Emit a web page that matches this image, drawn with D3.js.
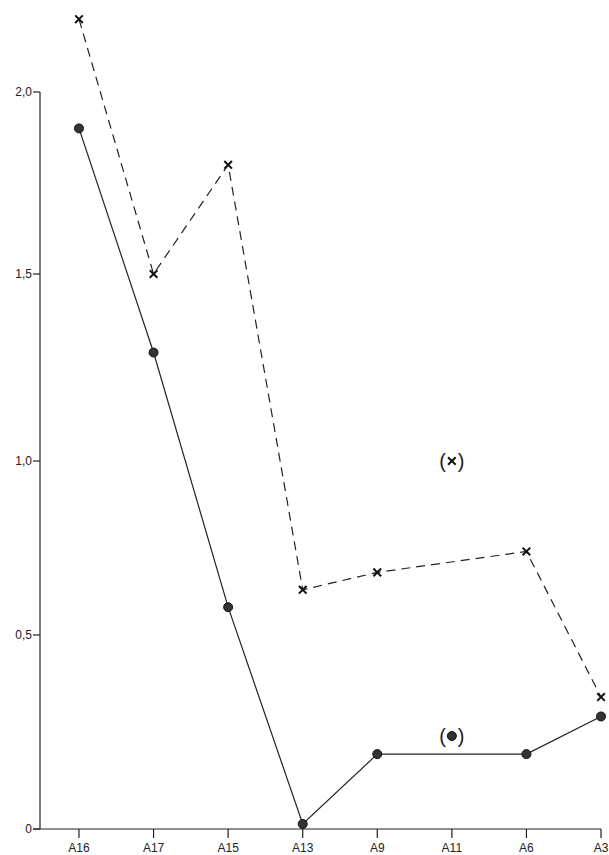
<!DOCTYPE html>
<html><head><meta charset="utf-8">
<script src="https://cdn.jsdelivr.net/npm/d3@7"></script>
<style>body{margin:0;background:#fff}svg{font-family:"Liberation Sans",Arial,sans-serif}</style>
</head><body><svg id="c" width="609" height="855"></svg>
<script>
var categories = ["A16","A17","A15","A13","A9","A11","A6","A3"];
var yTicks = [0, 0.5, 1.0, 1.5, 2.0];
// circles (solid line)
var circleSeries = [
	{k:"A16",v:1.90},{k:"A17",v:1.29},{k:"A15",v:0.58},{k:"A13",v:0.013},
	{k:"A9",v:0.193},{k:"A6",v:0.193},{k:"A3",v:0.29}];
// crosses (dashed line)
var crossSeries = [
	{k:"A16",v:2.20},{k:"A17",v:1.50},{k:"A15",v:1.80},{k:"A13",v:0.63},
	{k:"A9",v:0.68},{k:"A6",v:0.74},{k:"A3",v:0.34}];

var svg = d3.select("#c");
var x = d3.scalePoint().domain(categories).range([79,601]);
// scanned axis is slightly uneven, follow its ticks
var y = d3.scaleLinear().domain(yTicks).range([829,635,461,274,92]);

// y axis
svg.append("line").attr("x1",40).attr("x2",40).attr("y1",y(0)).attr("y2",y(2))
	.attr("stroke","#222").attr("stroke-width",1.2);
yTicks.forEach(function(t){
	svg.append("line").attr("x1",33).attr("x2",40).attr("y1",y(t)).attr("y2",y(t))
		.attr("stroke","#222").attr("stroke-width",1.2);
	svg.append("text").attr("x",32).attr("y",y(t)+4).attr("text-anchor","end")
		.attr("font-size",12).attr("fill","#222")
		.text(t==0 ? "0" : d3.format(".1f")(t).replace(".",","));
});
// x axis
svg.append("line").attr("x1",33).attr("x2",x("A3")).attr("y1",y(0)).attr("y2",y(0))
	.attr("stroke","#222").attr("stroke-width",1.2);
categories.forEach(function(c){
	svg.append("line").attr("x1",x(c)).attr("x2",x(c)).attr("y1",y(0)).attr("y2",y(0)+9)
		.attr("stroke","#222").attr("stroke-width",1.2);
	svg.append("text").attr("x",x(c)).attr("y",y(0)+23).attr("text-anchor","middle")
		.attr("font-size",12).attr("fill","#222").text(c);
});

var line = d3.line().x(function(d){return x(d.k);}).y(function(d){return y(d.v);});

svg.append("path").datum(crossSeries).attr("d",line).attr("fill","none")
	.attr("stroke","#222").attr("stroke-width",1.2).attr("stroke-dasharray","9,6");
svg.append("path").datum(circleSeries).attr("d",line).attr("fill","none")
	.attr("stroke","#222").attr("stroke-width",1.2);

var cross = d3.symbol().type(d3.symbolX).size(40);
svg.selectAll(".cr").data(crossSeries).enter().append("path")
	.attr("transform",function(d){return "translate("+x(d.k)+","+y(d.v)+")";})
	.attr("d",cross).attr("fill","none").attr("stroke","#111").attr("stroke-width",2);
svg.selectAll(".ci").data(circleSeries).enter().append("circle")
	.attr("cx",function(d){return x(d.k);}).attr("cy",function(d){return y(d.v);})
	.attr("r",4.5).attr("fill","#333").attr("stroke","#111");

// legend markers
var lx = x("A11");
svg.append("text").attr("x",lx).attr("y",468).attr("text-anchor","middle")
	.attr("font-size",20).attr("fill","#222").text("(\u2009\u2009\u2009)");
svg.append("path").attr("transform","translate("+lx+",461)").attr("d",cross)
	.attr("fill","none").attr("stroke","#111").attr("stroke-width",2);
svg.append("text").attr("x",lx).attr("y",743).attr("text-anchor","middle")
	.attr("font-size",20).attr("fill","#222").text("(\u2009\u2009\u2009)");
svg.append("circle").attr("cx",lx).attr("cy",736).attr("r",4.5).attr("fill","#333").attr("stroke","#111");
</script></body></html>
